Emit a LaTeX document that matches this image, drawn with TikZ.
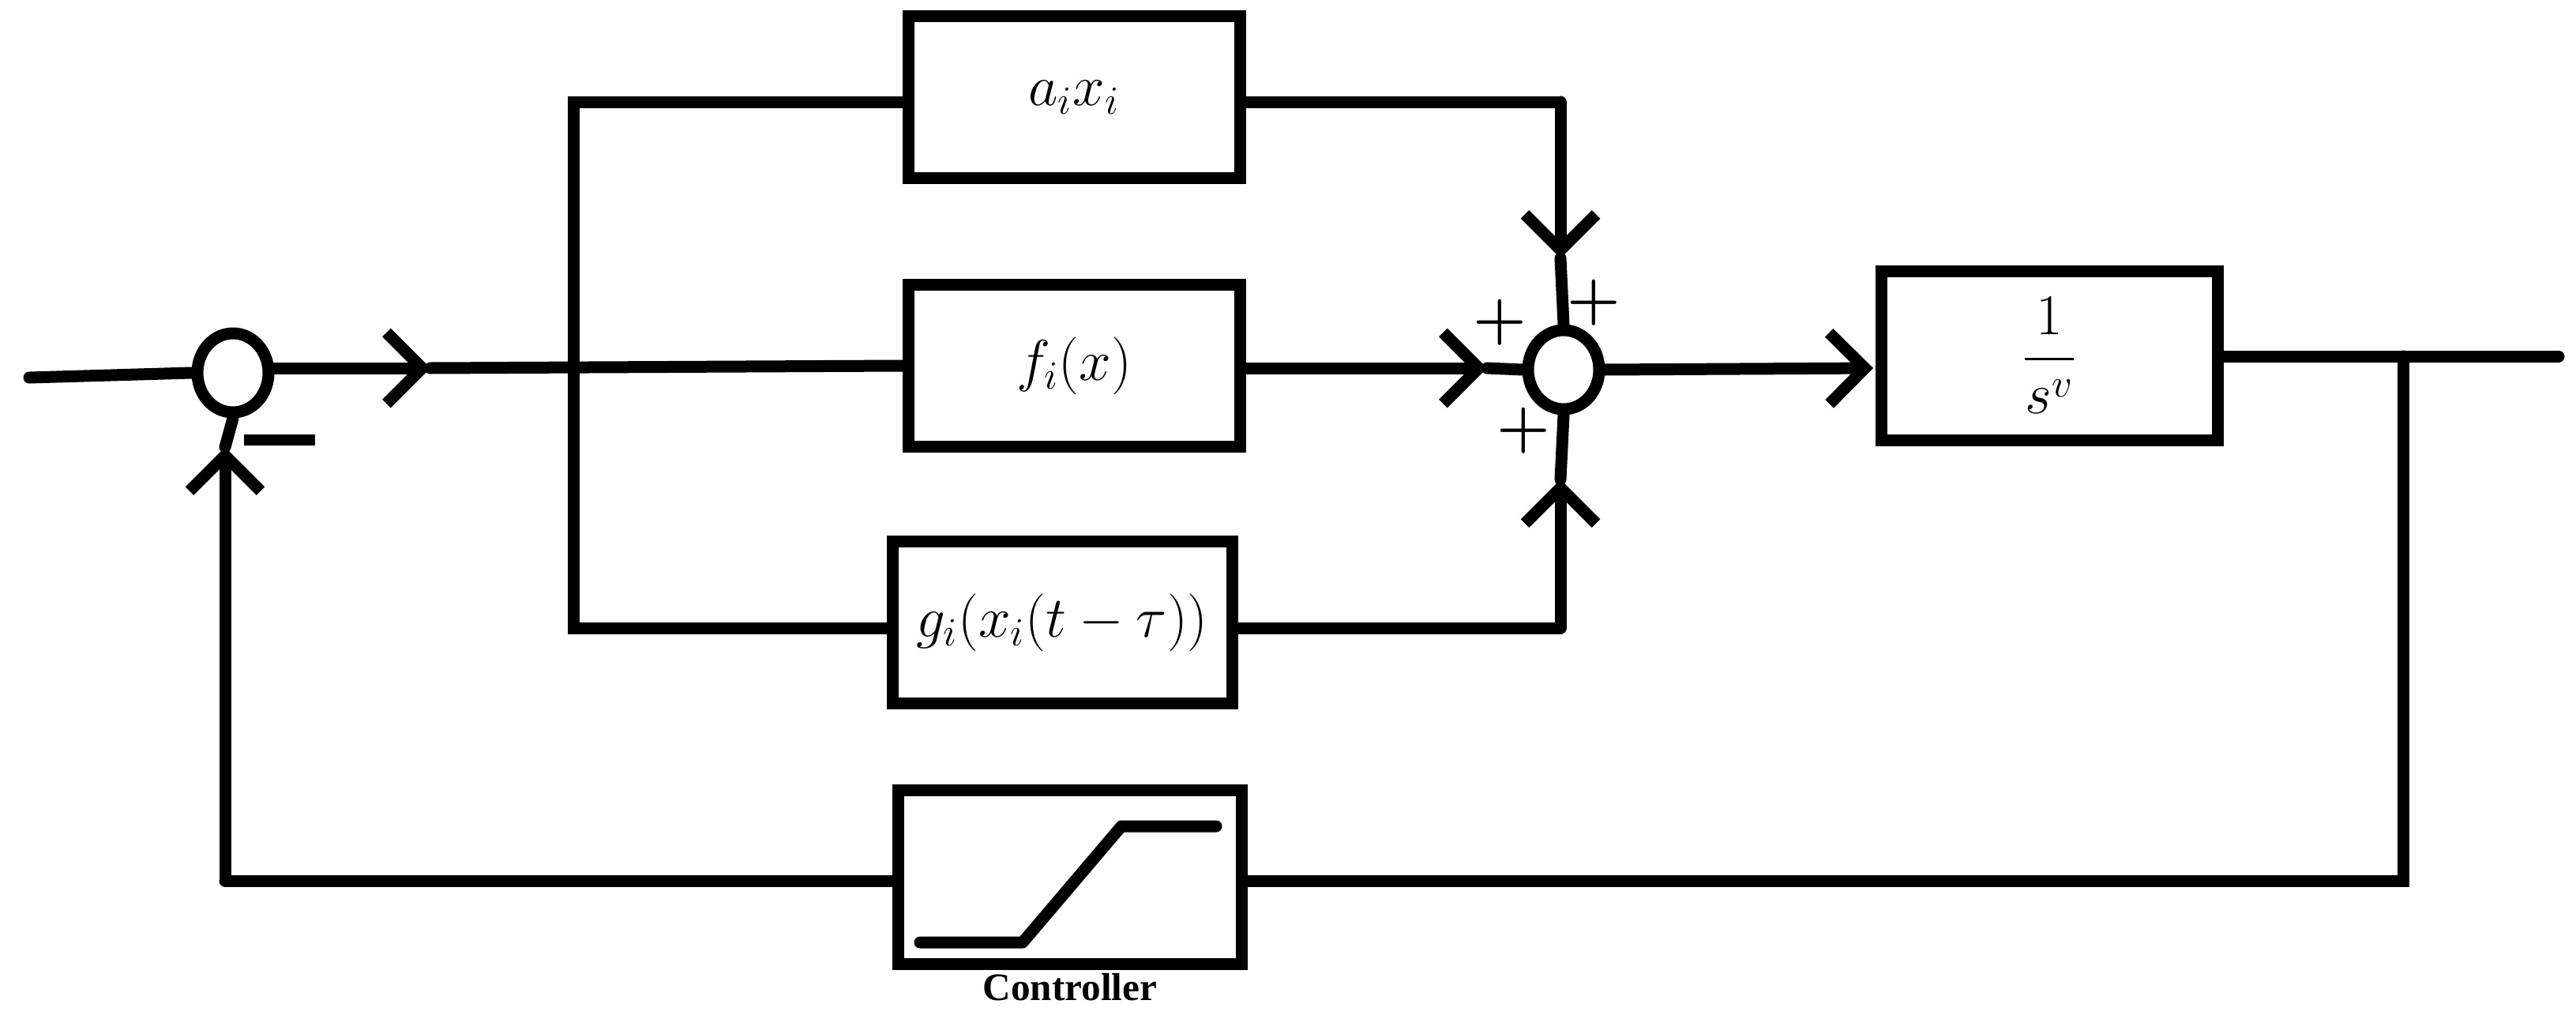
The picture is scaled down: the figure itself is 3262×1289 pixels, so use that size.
\documentclass[tikz,border=0pt]{standalone}
\usepackage{amsmath}
\usepackage{fontspec}
\newfontfamily\ctlfont{Liberation Serif}
\usetikzlibrary{arrows.meta,shapes.geometric}
\begin{document}
\begin{tikzpicture}[x=0.1mm,y=-0.1mm,
  ln/.style={line width=1.5mm,line cap=round,line join=miter},
  arr/.style={ln,-{Straight Barb[length=4.5mm,width=9mm,line width=1.5mm]}},
  blk/.style={draw,line width=1.5mm,minimum width=42mm,minimum height=20.5mm,inner sep=0pt,font=\fontsize{22}{26}\selectfont},
  sum/.style={draw,line width=1.5mm,ellipse,minimum width=9mm,minimum height=10mm,inner sep=0pt},
  sgn/.style={font=\fontsize{22}{24}\selectfont\bfseries}]
\useasboundingbox (0,0) rectangle (3262,1289);
% nodes
\node[sum] (s1) at (295,472) {};
\node[sum] (s2) at (1980,468) {};
\node[blk] (a) at (1360,123) {$a_i x_i$};
\node[blk] (f) at (1360,463) {$f_i(x)$};
\node[blk,minimum width=43mm] (g) at (1345,788) {$g_i(x_i(t-\tau))$};
\node[blk,minimum width=42.6mm,minimum height=21.4mm] (p) at (2595,450) {$\dfrac{1}{s^{v}}$};
\node[blk,minimum width=43.5mm,minimum height=22mm] (c) at (1355,1110) {};
\node[font=\ctlfont\bfseries\fontsize{14}{16}\selectfont] (cl) at (1355,1250) {Controller};
% coordinates
\coordinate (in) at (37,478);
\coordinate (m1) at (545,466);
\coordinate (bt) at (726,129);
\coordinate (bm) at (726,466);
\coordinate (bb) at (726,795);
\coordinate (tr) at (1976,129);
\coordinate (ta) at (1976,327);
\coordinate (la) at (1883,466);
\coordinate (gr) at (1976,795);
\coordinate (ba) at (1976,607);
\coordinate (pa) at (2372,466);
\coordinate (out) at (3240,451);
\coordinate (br) at (3043,451);
\coordinate (brb) at (3043,1115);
\coordinate (fl) at (285,1115);
\coordinate (fa) at (285,566);
% connectors
\draw[ln] (in) -- (s1.west);
\draw[arr] (s1.east |- m1) -- (m1);
\draw[ln] (m1) -- (f.west);
\draw[ln] (a.west |- bt) -- (bt) -- (bb) -- (g.west |- bb);
\draw[ln] (a.east |- tr) -- (tr);
\draw[arr] (tr) -- (ta);
\draw[ln] (ta) -- (s2.north);
\draw[arr] (f.east |- la) -- (la);
\draw[ln] (la) -- (s2.west);
\draw[ln] (g.east |- gr) -- (gr);
\draw[arr] (gr) -- (ba);
\draw[ln] (ba) -- (s2.south);
\draw[arr] (s2.east) -- (pa);
\draw[ln] (p.east |- out) -- (out);
\draw[ln] (br) -- (brb) -- (c.east |- brb);
\draw[ln] (c.west |- fl) -- (fl);
\draw[arr] (fl) -- (fa);
\draw[ln] (fa) -- (s1.south);
% saturation curve
\draw[ln,line join=round] (1165,1193) -- (1295,1193) -- (1420,1046) -- (1540,1046);
% signs
\node[sgn] (mn) at (354,557) {\rule{9mm}{1.4mm}};
\node[sgn] (p1) at (1899,408) {+};
\node[sgn] (p2) at (2018,383) {+};
\node[sgn] (p3) at (1929,545) {+};
\end{tikzpicture}
\end{document}
